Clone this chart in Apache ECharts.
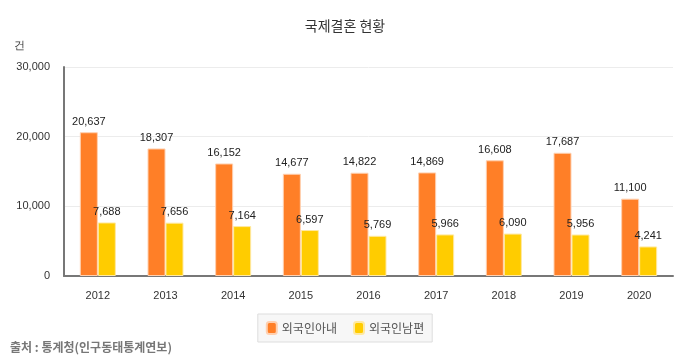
<!DOCTYPE html>
<html><head><meta charset="utf-8">
<script src="https://cdn.jsdelivr.net/npm/echarts@6/dist/echarts.min.js"></script>
<style>html,body{margin:0;padding:0;background:#fff}#c{width:690px;height:360px}</style>
</head><body><div id="c"></div>
<script>
const categories = ['2012','2013','2014','2015','2016','2017','2018','2019','2020'];
const wifeValues = [20637,18307,16152,14677,14822,14869,16608,17687,11100];
const husbandValues = [7688,7656,7164,6597,5769,5966,6090,5956,4241];
const seriesNames = ['외국인아내','외국인남편'];
const yTicks = [0,10000,20000,30000];

const chart = echarts.init(document.getElementById('c'));
const font = "'Noto Sans CJK KR', 'Liberation Sans', sans-serif";
const fmt = v => v.toLocaleString('en-US');
chart.setOption({
  animation:false,
  textStyle:{fontFamily:font},
  title:{text:'국제결혼 현황',left:'center',top:14,textStyle:{fontSize:14,fontWeight:'normal',color:'#333',fontFamily:font}},
  graphic:[
    {type:'text',left:14,top:40,style:{text:'건',fontSize:11,fill:'#333',font:'11px '+font}},
    {type:'text',left:10,top:341,style:{text:'출처 : 통계청(인구동태통계연보)',fill:'#777',font:'bold 12px '+font}}
  ],
  legend:{bottom:18,left:'center',itemWidth:10,itemHeight:12,itemGap:16,backgroundColor:'#f7f7f7',borderColor:'#ddd',borderWidth:1,padding:[7,8],
    textStyle:{fontSize:12,color:'#555',fontFamily:font},data:seriesNames},
  grid:{left:64,right:17,top:67,bottom:84},
  xAxis:{type:'category',data:categories,axisLine:{lineStyle:{color:'#777',width:2}},axisTick:{show:false},
    axisLabel:{margin:14,fontSize:11,color:'#333',fontFamily:'Liberation Sans'}},
  yAxis:{type:'value',min:0,max:30000,interval:10000,axisLine:{show:true,lineStyle:{color:'#777',width:2}},
    axisLabel:{margin:14,fontSize:11,color:'#333',fontFamily:'Liberation Sans',formatter:v=>fmt(v)},
    splitLine:{lineStyle:{color:'#ececec'}}},
  series:[
    {name:seriesNames[0],type:'bar',data:wifeValues,barWidth:18,barGap:'0%',
      itemStyle:{color:'#FF7F27',borderColor:'#ffd0b0',borderWidth:1},
      label:{show:true,position:'top',distance:5,fontSize:11,color:'#222',fontFamily:'Liberation Sans',formatter:p=>fmt(p.value)}},
    {name:seriesNames[1],type:'bar',data:husbandValues,barWidth:18,
      itemStyle:{color:'#FFCC00',borderColor:'#ffe9a0',borderWidth:1},
      label:{show:true,position:'top',distance:5,fontSize:11,color:'#222',fontFamily:'Liberation Sans',formatter:p=>fmt(p.value)}}
  ]
});
</script></body></html>
